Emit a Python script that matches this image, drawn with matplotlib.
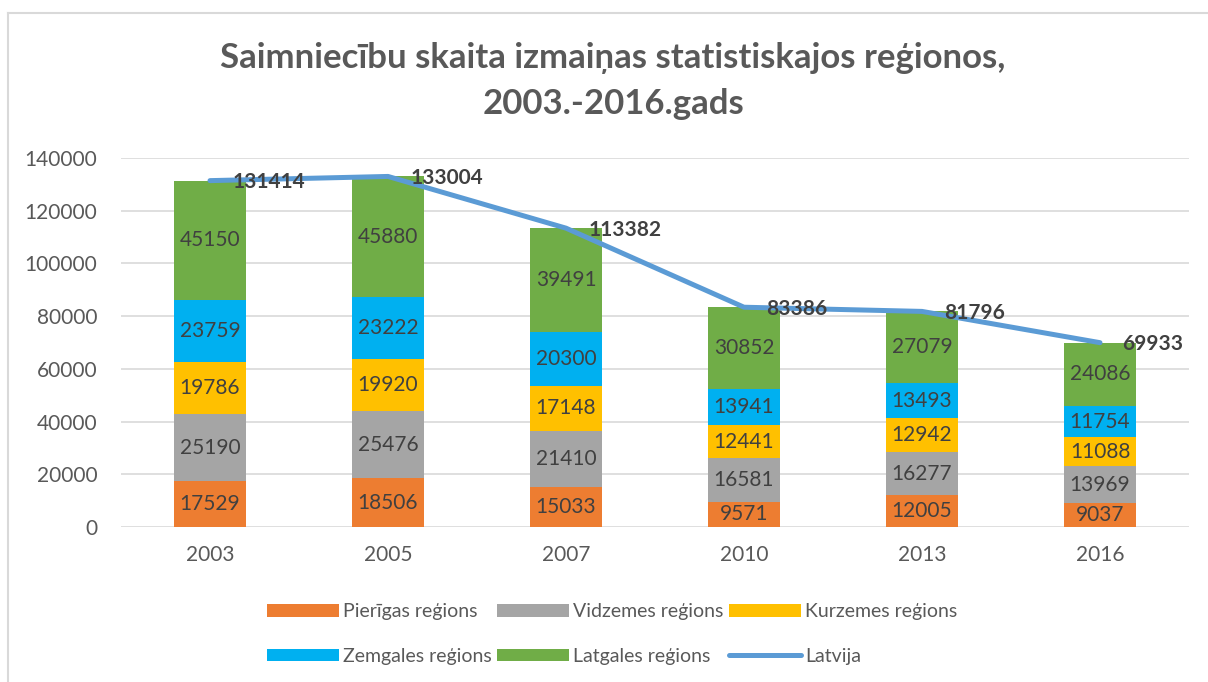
import matplotlib.pyplot as plt
import numpy as np
from matplotlib.lines import Line2D

plt.rcParams['font.family'] = ['Lato', 'DejaVu Sans']

years = ["2003", "2005", "2007", "2010", "2013", "2016"]
pierigas = [17529, 18506, 15033, 9571, 12005, 9037]
vidzemes = [25190, 25476, 21410, 16581, 16277, 13969]
kurzemes = [19786, 19920, 17148, 12441, 12942, 11088]
zemgales = [23759, 23222, 20300, 13941, 13493, 11754]
latgales = [45150, 45880, 39491, 30852, 27079, 24086]
latvija = [131414, 133004, 113382, 83386, 81796, 69933]

series_names = ["Pierīgas reģions", "Vidzemes reģions", "Kurzemes reģions",
                "Zemgales reģions", "Latgales reģions"]
series = [pierigas, vidzemes, kurzemes, zemgales, latgales]
colors = ["#ED7D31", "#A5A5A5", "#FFC000", "#00B0F0", "#70AD47"]

TEXT = "#404040"
TICK = "#595959"

fig = plt.figure(figsize=(12.08, 6.82), dpi=100)
ax = fig.add_axes([121 / 1208, 1 - 527 / 682, (1189 - 121) / 1208, (527 - 158) / 682])

x = np.arange(len(years))
bottom = np.zeros(len(years))
handles = []
for name, vals, col in zip(series_names, series, colors):
    vals = np.array(vals)
    bars = ax.bar(x, vals, 0.4, bottom=bottom, color=col, label=name, zorder=2)
    handles.append(bars)
    for xi, b, v in zip(x, bottom, vals):
        ax.text(xi, b + v / 2, str(v), ha="center", va="center",
                fontsize=15, color=TEXT, zorder=4)
    bottom += vals

line, = ax.plot(x, latvija, color="#5B9BD5", lw=3.6, label="Latvija", zorder=3,
                solid_capstyle="round")
for xi, v in zip(x, latvija):
    ax.annotate(str(v), (xi, v), xytext=(16, -1), textcoords="offset points",
                ha="left", va="center", fontsize=15, fontweight="bold",
                color=TEXT, zorder=5)

ax.set_xlim(-0.5, len(years) - 0.5)
ax.set_ylim(0, 140000)
ax.set_yticks(np.arange(0, 140001, 20000))
ax.set_xticks(x)
ax.set_xticklabels(years)
ax.tick_params(axis="both", length=0, labelsize=15, labelcolor=TICK)
ax.tick_params(axis="y", pad=17)
ax.tick_params(axis="x", pad=13)
ax.grid(axis="y", color="#D9D9D9", lw=1.2, zorder=0)
for s in ax.spines.values():
    s.set_visible(False)

fig.text(613 / 1208, 1 - 81 / 682,
         "Saimniecību skaita izmaiņas statistiskajos reģionos,\n2003.-2016.gads",
         ha="center", va="center", fontsize=25, fontweight="bold",
         color=TICK, linespacing=1.5)

# legend filled row by row: reorder for column-major filling
leg_handles = [handles[0], handles[3], handles[1], handles[4], handles[2], line]
leg_labels = [series_names[0], series_names[3], series_names[1],
              series_names[4], series_names[2], "Latvija"]
fig.legend(leg_handles, leg_labels, ncol=3, loc="center",
           bbox_to_anchor=(612 / 1208, 1 - 634 / 682), frameon=False,
           fontsize=14, labelcolor=TICK, handlelength=3.7, handleheight=0.6,
           handletextpad=0.2, columnspacing=0.3, labelspacing=1.4)

# chart border (cut off at right and bottom)
fig.add_artist(Line2D([8 / 1208, 8 / 1208], [-0.1, 1 - 13 / 682],
                      transform=fig.transFigure, color="#D9D9D9", lw=1.5))
fig.add_artist(Line2D([8 / 1208, 1.1], [1 - 13 / 682, 1 - 13 / 682],
                      transform=fig.transFigure, color="#D9D9D9", lw=1.5))

fig.savefig("out.png", dpi=100)
